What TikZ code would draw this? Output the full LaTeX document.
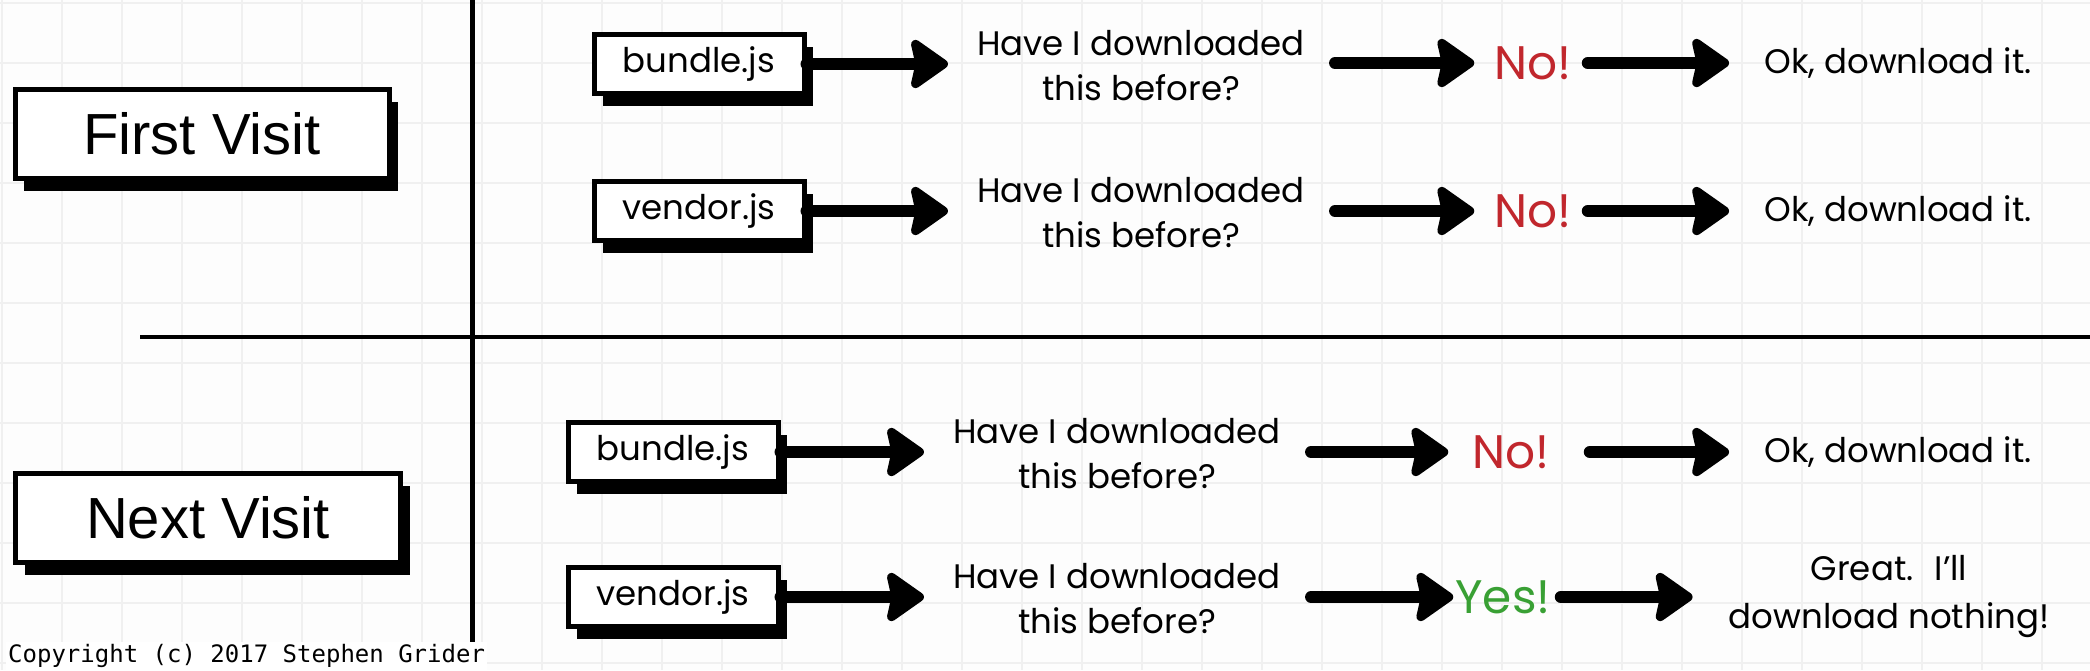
\documentclass[tikz,border=0pt]{standalone}
\usepackage{fontspec}
\setmainfont{Poppins}
\newfontfamily\visitfont{Liberation Sans}
\newfontfamily\notefont{DejaVu Sans Mono}
\usetikzlibrary{arrows.meta,shadows}
\definecolor{nored}{RGB}{193,39,45}
\definecolor{yesgreen}{RGB}{57,160,52}
\definecolor{gridgray}{RGB}{240,240,240}
\definecolor{paper}{RGB}{253,253,253}

\begin{document}
\begin{tikzpicture}[x=1pt,y=-1pt,>={Stealth[length=42pt,width=58pt,inset=6pt,round]}]
	\tikzstyle{card}=[draw=black,line width=5pt,fill=white,
	general shadow={fill=black,shadow xshift=9pt,shadow yshift=-12pt},
	inner sep=0pt
	]
	\tikzstyle{visit}=[card, minimum height=89pt, font=\visitfont\fontsize{58}{60}\selectfont];
	\tikzstyle{jsfile}=[card, minimum width=210pt, minimum height=59pt, font=\fontsize{34}{40}\selectfont];
	\tikzstyle{ask}=[align=center, inner sep=0pt, font=\fontsize{34}{45}\selectfont];
	\tikzstyle{reply}=[inner sep=0pt, font=\fontsize{47}{50}\selectfont];
	\tikzstyle{outcome}=[align=center, inner sep=0pt, font=\fontsize{34}{48}\selectfont];
	\tikzstyle{go}=[->, line width=12pt, line cap=round];

\useasboundingbox (0,0) rectangle (2090,670);
\fill[paper] (0,0) rectangle (2090,670);
\foreach \gx in {2,62,...,2090} \draw[gridgray,line width=2pt] (\gx,0) -- (\gx,670);
\foreach \gy in {3,63,...,670} \draw[gridgray,line width=2pt] (0,\gy) -- (2090,\gy);

\draw[line width=5pt] (472,0) -- (472,670);
\draw[line width=4pt] (140,337) -- (2090,337);

\node[visit, minimum width=374pt](first) at (202,134){First Visit};
\node[visit, minimum width=385pt](next) at (208,518){Next Visit};

\node[jsfile](f1) at (699,64){bundle.js};
\node[jsfile](f2) at (699,211){vendor.js};
\node[jsfile](f3) at (673,452){bundle.js};
\node[jsfile](f4) at (673,597){vendor.js};

\node[ask](q1) at (1141,66){Have I downloaded\\this before?};
\node[ask](q2) at (1141,213){Have I downloaded\\this before?};
\node[ask](q3) at (1117,454){Have I downloaded\\this before?};
\node[ask](q4) at (1117,599){Have I downloaded\\this before?};

\node[reply](r1) at (1533,63){\color{nored}No!};
\node[reply](r2) at (1533,211){\color{nored}No!};
\node[reply](r3) at (1511,452){\color{nored}No!};
\node[reply](r4) at (1503,597){\color{yesgreen}Yes!};

\node[outcome](e1) at (1898,63){Ok, download it.};
\node[outcome](e2) at (1898,211){Ok, download it.};
\node[outcome](e3) at (1898,452){Ok, download it.};
\node[outcome](e4) at (1889,596){Great.~ I'll\\download nothing!};

\foreach \r in {1,...,4}
	\draw[go, shorten >=29pt] (f\r) -- (f\r -| q\r.west);
\foreach \r/\a/\b/\c/\d in {1/30/20/16/35, 2/30/20/16/35, 3/30/24/40/35, 4/30/2/10/36}{
	\draw[go, shorten <=\a pt, shorten >=\b pt] (q\r.east |- r\r) -- (r\r);
	\draw[go, shorten <=\c pt, shorten >=\d pt] (r\r) -- (e\r.west |- r\r);
}

\node[font=\notefont\fontsize{24}{26}\selectfont, fill=white, inner sep=2pt, anchor=south west](note) at (6,670){Copyright (c) 2017 Stephen Grider};

\end{tikzpicture}
\end{document}
